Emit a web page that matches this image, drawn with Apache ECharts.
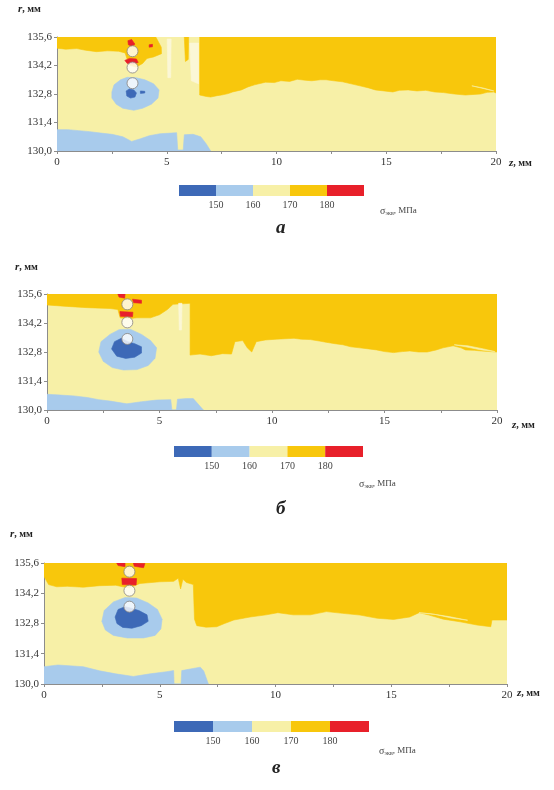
<!DOCTYPE html>
<html><head><meta charset="utf-8">
<script src="https://cdn.jsdelivr.net/npm/echarts@6/dist/echarts.min.js"></script>
<style>html,body{margin:0;padding:0;background:#fff}#c{width:554px;height:790px}</style>
</head><body><div id="c"></div>
<script>
// ---------- axis ticks ----------
const zTicks = [0, 5, 10, 15, 20];
const rTicks = [130.0, 131.4, 132.8, 134.2, 135.6];
const legendBreaks = [150, 160, 170, 180];
const bandLo = [140, 150, 160, 170, 180];
const bandHi = [150, 160, 170, 180, 190];

// ---------- panel а ----------
const aOrangeLeft = [[0,135.6],[0,135.05],[0.4,135.0],[0.9,135.03],[1.3,134.95],[1.8,134.88],[2.3,134.92],[2.8,134.9],[3.1,134.82],[3.2,134.5],[3.3,134.22],[3.6,134.12],[3.9,134.3],[4.1,134.55],[4.4,134.62],[4.76,134.78],[4.75,135.1],[4.6,135.4],[4.5,135.6]];
const aOrangeStrip = [[5.8,135.6],[6.0,135.6],[5.98,134.5],[5.85,134.4]];
const aOrangeRight = [[6.5,135.6],[6.5,132.75],[6.8,132.68],[7.0,132.65],[7.3,132.72],[7.5,132.75],[7.8,132.82],[8.0,132.9],[8.4,133.0],[8.7,133.15],[9.0,133.25],[9.5,133.38],[9.9,133.36],[10.2,133.45],[10.6,133.42],[10.95,133.52],[11.3,133.48],[11.6,133.45],[12.0,133.5],[12.26,133.5],[12.6,133.45],[13.0,133.4],[13.4,133.3],[13.8,133.2],[14.2,133.1],[14.5,133.0],[14.9,132.95],[15.3,132.9],[15.6,132.98],[16.0,133.0],[16.4,132.95],[16.8,132.98],[17.2,132.9],[17.6,132.87],[18.1,132.8],[18.6,132.75],[19.0,132.78],[19.3,132.8],[19.6,132.88],[19.9,132.9],[20,132.85],[20,135.6]];
const aPaleNotch = [[18.9,133.2],[19.4,133.1],[19.9,132.95],[19.5,133.05]];
const aLightStripe1 = [[5.02,135.5],[5.2,135.5],[5.18,133.6],[5.05,133.6]];
const aLightStripe2 = [[6.05,135.3],[6.45,135.3],[6.45,133.3],[6.12,133.45]];
const aBlueLight = [[2.5,132.9],[2.6,133.25],[2.9,133.5],[3.2,133.62],[3.6,133.6],[4.0,133.5],[4.4,133.3],[4.65,133.0],[4.6,132.6],[4.3,132.3],[3.9,132.1],[3.5,132.0],[3.0,132.1],[2.7,132.3],[2.5,132.6]];
const aBlueDark1 = [[3.15,132.95],[3.3,133.05],[3.5,133.0],[3.62,132.85],[3.55,132.65],[3.35,132.6],[3.18,132.7]];
const aBlueDark2 = [[3.8,132.95],[4.0,132.93],[4.0,132.85],[3.8,132.83]];
const aBlueBottom = [[0,130],[0,131.05],[0.5,131.05],[1.0,131.0],[1.5,130.95],[2.0,130.88],[2.5,130.82],[3.0,130.7],[3.4,130.47],[3.8,130.6],[4.2,130.75],[4.7,130.85],[5.2,130.88],[5.45,130.9],[5.5,130.05],[5.75,130.05],[5.8,130.8],[6.2,130.82],[6.55,130.7],[6.8,130.35],[7.0,130.0]];
const aRed1 = [[3.23,135.42],[3.4,135.48],[3.55,135.25],[3.4,135.15],[3.25,135.22]];
const aRed2 = [[3.09,134.45],[3.3,134.55],[3.62,134.52],[3.7,134.35],[3.5,134.28],[3.2,134.3]];
const aRed3 = [[4.2,135.22],[4.35,135.24],[4.35,135.12],[4.2,135.1]];
const aCircles = [[3.44,134.9],[3.44,134.1],[3.44,133.33]];

// ---------- panel б ----------
const bOrange = [[0,135.6],[0,135.07],[0.9,135.0],[1.8,134.94],[2.8,134.9],[3.15,134.85],[3.25,134.45],[3.6,134.4],[4.0,134.45],[4.6,134.45],[5.0,134.6],[5.35,134.85],[5.6,135.1],[6.36,135.15],[6.36,132.65],[6.8,132.7],[7.3,132.62],[7.8,132.72],[8.2,132.7],[8.35,133.3],[8.7,133.35],[8.9,133.0],[9.1,132.8],[9.3,133.3],[9.7,133.38],[10.2,133.42],[10.98,133.46],[11.3,133.42],[11.7,133.4],[12.1,133.33],[12.4,133.27],[12.8,133.2],[13.15,133.15],[13.5,133.05],[13.9,133.0],[14.3,132.95],[14.65,132.9],[15.0,132.82],[15.4,132.77],[15.8,132.82],[16.13,132.85],[16.5,132.8],[16.9,132.8],[17.3,132.9],[17.6,133.0],[18.05,133.1],[18.4,133.0],[18.6,132.9],[19.0,132.88],[19.3,132.85],[19.7,132.82],[20,132.8],[20,135.6]];
const bPaleStreak = [[18.1,133.15],[18.6,133.05],[19.3,132.9],[19.9,132.82],[19.4,132.95],[18.7,133.1]];
const bLightStripe = [[5.85,135.15],[6.0,135.15],[5.98,133.86],[5.88,133.86]];
const bBlueLight = [[2.3,132.8],[2.4,133.3],[2.8,133.65],[3.2,133.88],[3.7,133.9],[4.2,133.65],[4.6,133.35],[4.87,133.0],[4.8,132.5],[4.5,132.15],[4.0,131.95],[3.4,131.93],[2.9,132.05],[2.5,132.35]];
const bBlueDark = [[2.87,132.95],[3.0,133.3],[3.3,133.46],[3.6,133.3],[3.9,133.2],[4.2,133.05],[4.2,132.75],[3.9,132.55],[3.5,132.49],[3.1,132.6]];
const bBlueBottom = [[0,130],[0,130.76],[0.6,130.72],[1.2,130.68],[1.8,130.6],[2.3,130.5],[2.8,130.43],[3.55,130.3],[4.2,130.4],[4.87,130.48],[5.5,130.5],[5.55,130.0],[5.75,130.0],[5.8,130.52],[6.2,130.55],[6.5,130.55],[6.95,130.0]];
const bRed1 = [[3.15,135.6],[3.47,135.6],[3.45,135.4],[3.2,135.45]];
const bRed2 = [[3.8,135.35],[4.2,135.3],[4.2,135.15],[3.85,135.18]];
const bRed3 = [[3.24,134.75],[3.82,134.72],[3.8,134.5],[3.26,134.52]];
const bCircles = [[3.57,135.1],[3.57,134.23],[3.57,133.43]];

// ---------- panel в ----------
const cOrange = [[0,135.6],[0,134.97],[0.2,134.6],[0.55,134.5],[1.0,134.52],[1.7,134.48],[2.4,134.55],[3.1,134.57],[3.4,134.5],[3.7,134.45],[4.14,134.65],[5.0,134.73],[5.6,134.75],[5.8,134.9],[5.9,134.4],[6.0,134.85],[6.15,134.7],[6.45,134.6],[6.5,133.0],[6.6,132.7],[7.0,132.63],[7.46,132.65],[7.8,132.8],[8.2,132.96],[8.9,133.1],[9.6,133.2],[10.1,133.3],[10.77,133.2],[11.5,133.2],[12.2,133.35],[12.9,133.27],[13.65,133.19],[14.4,133.04],[15.1,132.99],[15.8,133.1],[16.2,133.3],[16.6,133.2],[17.25,133.0],[17.97,132.88],[18.7,132.73],[19.3,132.65],[19.35,132.96],[20,132.96],[20,135.6]];
const cPaleStreak = [[16.2,133.3],[16.9,133.22],[17.6,133.05],[18.3,132.95],[17.5,133.12],[16.7,133.25]];
const cBlueLight = [[2.5,132.9],[2.6,133.4],[3.0,133.8],[3.5,134.0],[4.0,133.98],[4.5,133.75],[4.9,133.45],[5.1,133.0],[5.05,132.55],[4.8,132.25],[4.3,132.13],[3.6,132.13],[3.0,132.25],[2.65,132.5]];
const cBlueDark = [[3.07,133.1],[3.2,133.45],[3.5,133.58],[3.8,133.5],[4.1,133.4],[4.45,133.2],[4.5,132.9],[4.2,132.7],[3.8,132.58],[3.4,132.62],[3.15,132.8]];
const cBlueBottom = [[0,130],[0,130.8],[0.6,130.88],[1.7,130.8],[2.4,130.61],[3.1,130.47],[3.86,130.35],[4.58,130.47],[5.3,130.57],[5.6,130.62],[5.62,130.0],[5.92,130.0],[5.95,130.62],[6.75,130.78],[6.9,130.6],[7.1,130.0]];
const cRed1 = [[3.14,135.6],[3.5,135.6],[3.5,135.43],[3.2,135.48]];
const cRed2 = [[3.86,135.6],[4.36,135.58],[4.3,135.38],[3.9,135.45]];
const cRed3 = [[3.36,134.9],[4.0,134.88],[3.98,134.58],[3.38,134.6]];
const cCircles = [[3.69,135.2],[3.69,134.32],[3.69,133.58]];

// ---------- colours ----------
const C_DARK = '#3D69B7', C_LIGHT = '#A8CBEC', C_PALE = '#F7F0A7', C_ORANGE = '#F8C70C', C_RED = '#E8202A', C_WHITE = '#FBF7D6';
const bandColors = [C_DARK, C_LIGHT, C_PALE, C_ORANGE, C_RED];
const SERIF = '"Liberation Serif", "DejaVu Serif", serif';

function poly(gi, pts, color) {
  return {
    type: 'custom', xAxisIndex: gi, yAxisIndex: gi, data: pts, clip: true, silent: true, animation: false,
    renderItem: (params, api) => params.dataIndex === 0 ? {
      type: 'polygon', shape: { points: pts.map(p => api.coord(p)) },
      style: { fill: color, stroke: color, lineWidth: 0.6 }
    } : null
  };
}
function circles(gi, pts) {
  return { type: 'scatter', xAxisIndex: gi, yAxisIndex: gi, data: pts, symbolSize: 11, silent: true, animation: false,
    itemStyle: { color: '#ffffff', borderColor: '#8a8580', borderWidth: 1 } };
}
function legendBars(gi) {
  return { type: 'custom', xAxisIndex: gi, yAxisIndex: gi, silent: true, animation: false,
    data: bandLo.map((lo, i) => [lo, bandHi[i]]),
    renderItem: (params, api) => {
      const p0 = api.coord([api.value(0), 1]);
      const p1 = api.coord([api.value(1), 0]);
      return { type: 'rect', shape: { x: p0[0], y: p0[1], width: p1[0] - p0[0], height: p1[1] - p0[1] },
        style: { fill: bandColors[params.dataIndex] } };
    } };
}

const panelGrids = [
  { left: 57, top: 37, width: 439, height: 114 },
  { left: 47, top: 294, width: 450, height: 116 },
  { left: 44, top: 563, width: 463, height: 121 }
];
const legendGrids = [
  { left: 179, top: 185, width: 185, height: 11 },
  { left: 174, top: 446, width: 189, height: 11 },
  { left: 174, top: 721, width: 195, height: 11 }
];
const grid = panelGrids.map(g => Object.assign({ show: true, backgroundColor: C_PALE, borderWidth: 0 }, g))
  .concat(legendGrids.map(g => Object.assign({ show: false }, g)));

const axisGray = '#8c8c8c';
const xAxis = [], yAxis = [];
for (let i = 0; i < 3; i++) {
  xAxis.push({ type: 'value', gridIndex: i, min: zTicks[0], max: zTicks[zTicks.length - 1], interval: 5,
    axisLine: { show: true, onZero: false, lineStyle: { color: axisGray, width: 1 } },
    axisTick: { show: true, length: 3, lineStyle: { color: axisGray } },
    minorTick: { show: true, splitNumber: 2, length: 3, lineStyle: { color: axisGray } },
    splitLine: { show: false }, minorSplitLine: { show: false },
    axisLabel: { fontFamily: SERIF, fontSize: 11, color: '#333', margin: 6 } });
  yAxis.push({ type: 'value', gridIndex: i, min: rTicks[0], max: rTicks[rTicks.length - 1],
    axisLine: { show: true, onZero: false, lineStyle: { color: axisGray, width: 1 } },
    axisTick: { show: true, length: 3, customValues: rTicks, lineStyle: { color: axisGray } },
    splitLine: { show: false },
    axisLabel: { customValues: rTicks, fontFamily: SERIF, fontSize: 11, color: '#333', margin: 5,
      formatter: v => Number(v).toFixed(1).replace('.', ',') } });
}
for (let i = 0; i < 3; i++) {
  xAxis.push({ type: 'value', gridIndex: 3 + i, min: bandLo[0], max: bandHi[bandHi.length - 1],
    axisLine: { show: false }, axisTick: { show: false }, splitLine: { show: false },
    axisLabel: { customValues: legendBreaks, fontFamily: SERIF, fontSize: 10, color: '#444', margin: 4 } });
  yAxis.push({ type: 'value', gridIndex: 3 + i, min: 0, max: 1, show: false });
}

const series = [
  poly(0, aOrangeLeft, C_ORANGE), poly(0, aOrangeStrip, C_ORANGE), poly(0, aLightStripe1, C_WHITE), poly(0, aLightStripe2, C_WHITE),
  poly(0, aOrangeRight, C_ORANGE), poly(0, aPaleNotch, C_PALE),
  poly(0, aBlueLight, C_LIGHT), poly(0, aBlueDark1, C_DARK), poly(0, aBlueDark2, C_DARK), poly(0, aBlueBottom, C_LIGHT),
  poly(0, aRed1, C_RED), poly(0, aRed2, C_RED), poly(0, aRed3, C_RED), circles(0, aCircles),

  poly(1, bOrange, C_ORANGE), poly(1, bPaleStreak, C_PALE), poly(1, bLightStripe, C_WHITE),
  poly(1, bBlueLight, C_LIGHT), poly(1, bBlueDark, C_DARK), poly(1, bBlueBottom, C_LIGHT),
  poly(1, bRed1, C_RED), poly(1, bRed2, C_RED), poly(1, bRed3, C_RED), circles(1, bCircles),

  poly(2, cOrange, C_ORANGE), poly(2, cPaleStreak, C_PALE),
  poly(2, cBlueLight, C_LIGHT), poly(2, cBlueDark, C_DARK), poly(2, cBlueBottom, C_LIGHT),
  poly(2, cRed1, C_RED), poly(2, cRed2, C_RED), poly(2, cRed3, C_RED), circles(2, cCircles),

  legendBars(3), legendBars(4), legendBars(5)
];

const axisNameRich = {
  it: { fontFamily: SERIF, fontSize: 11, fontStyle: 'italic', fontWeight: 'bold', fill: '#222' },
  n: { fontFamily: SERIF, fontSize: 10, fontWeight: 'bold', fill: '#222' }
};
const sigmaRich = {
  s: { fontFamily: SERIF, fontSize: 10, fill: '#444' },
  sub: { fontFamily: SERIF, fontSize: 6, fill: '#444', padding: [5, 0, 0, 0] },
  n: { fontFamily: SERIF, fontSize: 9, fill: '#444' }
};
function txt(x, y, text, rich) { return { type: 'text', left: x, top: y, silent: true, style: { text, rich } }; }
function cap(x, y, t) { return { type: 'text', left: x, top: y, silent: true,
  style: { text: t, fontFamily: SERIF, fontSize: 19, fontWeight: 'bold', fontStyle: 'italic', fill: '#222' } }; }

const graphic = [
  txt(18, 4, '{it|r}{n|, мм}', axisNameRich),
  txt(15, 262, '{it|r}{n|, мм}', axisNameRich),
  txt(10, 529, '{it|r}{n|, мм}', axisNameRich),
  txt(509, 158, '{it|z}{n|, мм}', axisNameRich),
  txt(512, 420, '{it|z}{n|, мм}', axisNameRich),
  txt(517, 688, '{it|z}{n|, мм}', axisNameRich),
  txt(380, 206, '{s|σ}{sub|экв}{n|, МПа}', sigmaRich),
  txt(359, 479, '{s|σ}{sub|экв}{n|, МПа}', sigmaRich),
  txt(379, 746, '{s|σ}{sub|экв}{n|, МПа}', sigmaRich),
  cap(276, 219, 'а'), cap(276, 500, 'б'), cap(272, 759, 'в')
];

const chart = echarts.init(document.getElementById('c'), null, { renderer: 'canvas' });
chart.setOption({ animation: false, backgroundColor: '#ffffff', grid, xAxis, yAxis, series, graphic });
</script></body></html>
